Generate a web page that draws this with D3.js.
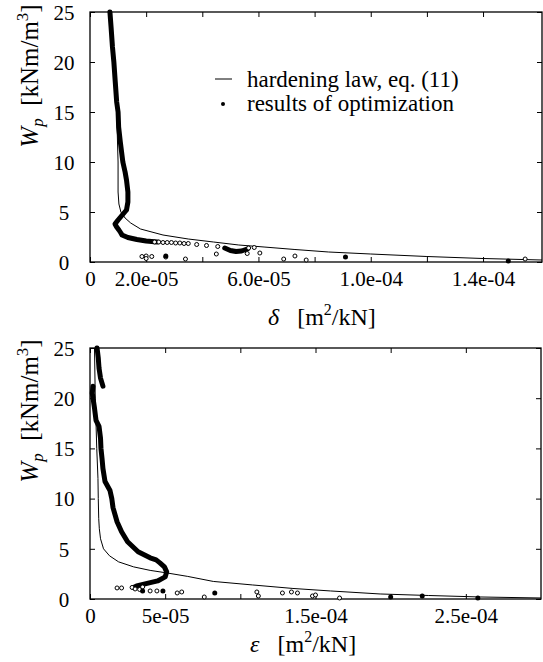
<!DOCTYPE html>
<html>
<head>
<meta charset="utf-8">
<script src="https://cdn.jsdelivr.net/npm/d3@7"></script>
<style>
body { margin: 0; background: #fff; }
svg text { font-family: "Liberation Serif", "DejaVu Serif", serif; fill: #000; }
</style>
</head>
<body>
<div id="chart"></div>
<script>
// x values are in units of 1e-5 m2/kN, W_p in kNm/m3

// top panel (delta)
var lawDelta = [[0.75,25],[0.85,20],[0.95,15],[1.0,10],[1.0,7],[1.03,5.8],[1.1,5.0],[1.25,4.4],[1.45,3.9],[1.8,3.3],[2.6,2.7],[3.5,2.3],[4.4,2.0],[5.3,1.7],[6.2,1.5],[7.3,1.25],[8.5,1.0],[10,0.8],[12,0.55],[14,0.35],[16.1,0.2]];
var traceDelta = [[0.71,25],[0.75,23.5],[0.8,21.5],[0.85,20],[0.9,18],[0.95,16],[1.0,15],[1.02,13.5],[1.08,12],[1.17,10],[1.25,9],[1.3,8.2],[1.35,7],[1.35,6],[1.3,5.2],[1.15,4.7],[1.0,4.2],[0.89,3.8],[0.95,3.5],[1.03,3.2],[1.1,2.9],[1.14,2.7],[1.35,2.45],[1.67,2.25],[2.0,2.1],[2.4,2.0]];
var blobDelta = [[4.8,1.4],[5.0,1.15],[5.2,1.05],[5.4,1.1],[5.6,1.3]];
var openDelta = [[2.3,2.0],[2.45,2.0],[2.6,1.95],[2.75,1.95],[2.9,1.95],[3.05,1.9],[3.2,1.9],[3.35,1.85],[3.5,1.85],[3.8,1.75],[4.15,1.65],[4.55,1.55],[5.65,1.4],[5.85,1.45],
  [1.85,0.55],[2.0,0.6],[2.0,0.35],[2.2,0.55],[2.7,0.5],[3.4,0.3],[4.5,0.8],[5.6,0.85],[6.05,0.9],[6.9,0.3],[7.3,0.6],[7.7,0.2],[15.5,0.3]];
var filledDelta = [[2.7,0.6],[9.1,0.5],[14.9,0.1]];
var deltaTicks = [0,2,4,6,8,10,12,14];
var deltaLabels = ["0","2.0e-05","","6.0e-05","","1.0e-04","","1.4e-04"];

// bottom panel (epsilon)
var lawEps = [[0.3,25],[0.35,20],[0.45,15],[0.53,12],[0.55,10],[0.58,8],[0.62,7],[0.7,6],[0.9,5],[1.3,4.3],[1.9,3.7],[2.9,3.2],[4.0,2.85],[5.1,2.6],[6.5,2.25],[8.2,1.75],[10.8,1.4],[13.5,1.05],[16,0.8],[19.3,0.5],[22.5,0.35],[26,0.2],[30,0.1]];
var traceEpsTop = [[0.47,25],[0.55,24],[0.6,23],[0.7,22],[0.86,21.2]];
var traceEps = [[0.2,21.2],[0.15,20.5],[0.2,20],[0.3,19],[0.4,17.8],[0.6,17.2],[0.7,16],[0.73,15],[0.8,14],[0.86,13],[1.0,11.7],[1.33,10.8],[1.45,10],[1.53,9.1],[1.8,7.7],[2.1,6.7],[2.5,5.7],[3.2,4.7],[4.0,4.1],[4.4,3.9],[4.65,3.6],[4.95,3.2],[5.1,2.7],[5.0,2.2],[4.5,1.8],[3.8,1.55],[3.1,1.3],[2.9,1.15]];
var openEps = [[1.8,1.1],[2.1,1.1],[2.8,1.15],[3.0,1.0],[3.3,0.95],[3.5,1.2],[4.0,0.8],[4.45,0.8],[5.8,0.6],[6.1,0.7],[7.6,0.2],[11.1,0.7],[11.2,0.3],[12.8,0.6],[13.4,0.7],[13.8,0.6],[14.8,0.3],[15.0,0.4],[16.6,0.1]];
var filledEps = [[3.5,0.8],[4.85,0.8],[8.3,0.6],[20,0.2],[22.1,0.3],[25.8,0.1]];
var epsTicks = [0,5,10,15,20,25];
var epsLabels = ["0","5e-05","","1.5e-04","","2.5e-04"];

var wTicks = [0,5,10,15,20,25];

var serif = '"Liberation Serif", "DejaVu Serif", serif';
var width = 543, height = 662;

var svg = d3.select("#chart")
    .append("svg")
    .attr("width", width)
    .attr("height", height)
    .attr("font-family", serif);

function drawPanel(p) {
    var x = d3.scaleLinear().domain([0, p.xMax * 1e-5]).range([90, p.right]);
    var y = d3.scaleLinear().domain([0, 25]).range([p.bottom, p.top]);
    var g = svg.append("g");

    var line = d3.line()
        .x(function(d) { return x(d[0] * 1e-5); })
        .y(function(d) { return y(d[1]); });

    // axes, ticks pointing inward
    var bx = g.append("g").attr("transform", "translate(0," + p.bottom + ")")
        .call(d3.axisBottom(x).tickValues(p.ticks.map(function(t) { return t * 1e-5; }))
            .tickSizeInner(-5).tickSizeOuter(0)
            .tickFormat(function(d, i) { return p.labels[i]; }));
    bx.selectAll("text").attr("y", 24).attr("dy", null);

    g.append("g").attr("transform", "translate(0," + p.top + ")")
        .call(d3.axisTop(x).tickValues(p.ticks.map(function(t) { return t * 1e-5; }))
            .tickSizeInner(-5).tickSizeOuter(0).tickFormat(""));

    var ly = g.append("g").attr("transform", "translate(90,0)")
        .call(d3.axisLeft(y).tickValues(wTicks).tickSizeInner(-5).tickSizeOuter(0));
    ly.selectAll("text").attr("x", -26).attr("text-anchor", "middle").attr("dy", "0.35em");

    g.append("g").attr("transform", "translate(" + p.right + ",0)")
        .call(d3.axisRight(y).tickValues(wTicks).tickSizeInner(-5).tickSizeOuter(0).tickFormat(""));

    g.selectAll(".domain").remove();
    g.selectAll("g").attr("font-family", null).attr("font-size", null);
    g.selectAll(".tick line").attr("stroke", "#000").attr("stroke-width", 1);
    g.selectAll(".tick text").attr("fill", "#000")
        .attr("font-family", serif).attr("font-size", 21);

    g.append("rect")
        .attr("x", 90).attr("y", p.top)
        .attr("width", p.right - 90).attr("height", p.bottom - p.top)
        .attr("fill", "none").attr("stroke", "#000").attr("stroke-width", 1.3);

    // hardening law
    g.append("path").datum(p.law)
        .attr("d", line).attr("fill", "none")
        .attr("stroke", "#000").attr("stroke-width", 1);

    // optimization results, dense parts
    p.traces.forEach(function(t) {
        g.append("path").datum(t)
            .attr("d", line).attr("fill", "none")
            .attr("stroke", "#000").attr("stroke-width", 5)
            .attr("stroke-linejoin", "round").attr("stroke-linecap", "round");
    });

    g.selectAll(".open").data(p.open).enter().append("circle")
        .attr("cx", function(d) { return x(d[0] * 1e-5); })
        .attr("cy", function(d) { return y(d[1]); })
        .attr("r", 2).attr("fill", "#fff").attr("stroke", "#000").attr("stroke-width", 1);

    g.selectAll(".filled").data(p.filled).enter().append("circle")
        .attr("cx", function(d) { return x(d[0] * 1e-5); })
        .attr("cy", function(d) { return y(d[1]); })
        .attr("r", 2.5).attr("fill", "#000");

    // y title
    var yt = g.append("text")
        .attr("transform", "translate(38," + p.yTitleY + ") rotate(-90)")
        .attr("text-anchor", "middle")
        .attr("font-size", 25);
    yt.append("tspan").attr("font-style", "italic").text("W");
    yt.append("tspan").attr("font-style", "italic").attr("font-size", 17).attr("dy", 5).text("p");
    yt.append("tspan").attr("dy", -5).text("\u00a0\u00a0[kNm/m");
    yt.append("tspan").attr("font-size", 17).attr("dy", -10).text("3");
    yt.append("tspan").attr("dy", 10).text("]");

    // x title
    var xt = g.append("text")
        .attr("x", p.xTitleX).attr("y", p.xTitleY)
        .attr("font-size", 24);
    xt.append("tspan").attr("font-style", "italic").text(p.symbol);
    xt.append("tspan").text("\u00a0\u00a0\u00a0[m");
    xt.append("tspan").attr("font-size", 16).attr("dy", -10).text("2");
    xt.append("tspan").attr("dy", 10).text("/kN]");
}

drawPanel({
    xMax: 16.1, right: 542, top: 12, bottom: 262,
    ticks: deltaTicks, labels: deltaLabels,
    law: lawDelta, traces: [traceDelta, blobDelta], open: openDelta, filled: filledDelta,
    symbol: "\u03b4", xTitleX: 268, xTitleY: 325, yTitleY: 76
});

drawPanel({
    xMax: 30, right: 541, top: 348, bottom: 599,
    ticks: epsTicks, labels: epsLabels,
    law: lawEps, traces: [traceEpsTop, traceEps], open: openEps, filled: filledEps,
    symbol: "\u03b5", xTitleX: 250, xTitleY: 652, yTitleY: 411
});

// legend
var legend = svg.append("g").attr("font-size", 23);
legend.append("line")
    .attr("x1", 215).attr("x2", 232).attr("y1", 79).attr("y2", 79)
    .attr("stroke", "#000").attr("stroke-width", 1);
legend.append("text").attr("x", 247).attr("y", 87).text("hardening law, eq. (11)");
legend.append("circle").attr("cx", 223).attr("cy", 104).attr("r", 2).attr("fill", "#000");
legend.append("text").attr("x", 247).attr("y", 111).text("results of optimization");
</script>
</body>
</html>
